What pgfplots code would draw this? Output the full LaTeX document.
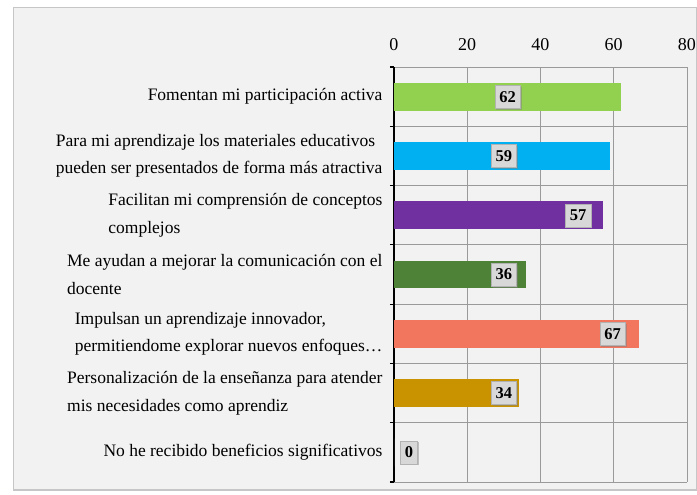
\documentclass[border=0pt]{standalone}
\usepackage{fontspec}
\setmainfont{Liberation Serif}
\usepackage{pgfplots}
\pgfplotsset{compat=1.18}
\usetikzlibrary{shadows}
\definecolor{bgc}{HTML}{F2F2F2}
\definecolor{c1}{HTML}{92D050}
\definecolor{c2}{HTML}{00B0F0}
\definecolor{c3}{HTML}{7030A0}
\definecolor{c4}{HTML}{4E8236}
\definecolor{c5}{HTML}{F2755E}
\definecolor{c6}{HTML}{C99300}
\definecolor{gridc}{HTML}{9A9A9A}
\definecolor{boxc}{HTML}{D8D8D8}
\begin{document}
\begin{tikzpicture}[x=1pt,y=1pt]
\useasboundingbox (0,0) rectangle (697,495);
\fill[white] (0,0) rectangle (697,495);
\draw[fill=bgc, draw=gray!45, line width=1.2pt] (13.5,5) rectangle (696.5,487.5);
\begin{axis}[
  at={(394pt,13pt)}, anchor=south west,
  scale only axis, width=293pt, height=415pt,
  xmin=0, xmax=80, ymin=-0.5, ymax=6.5,
  y dir=reverse,
  axis y line*=left, axis x line*=top,
  x axis line style={draw=none},
  y axis line style={black, line width=1.2pt},
  xtick={0,20,40,60,80},
  xticklabel pos=top,
  major x tick style={draw=none},
  xmajorgrids, ymajorgrids,
  major grid style={gridc, line width=0.9pt},
  ytick={-0.5,0.5,...,6.5},
  yticklabels={},
  major y tick style={black, line width=1.2pt},
  tick align=outside,
  major tick length=4pt,
  extra y ticks={0,1,2,3,4,5,6},
  extra y tick labels={
    Fomentan mi participación activa,
    {Para mi aprendizaje los materiales educativos\\pueden ser presentados de forma más atractiva},
    {Facilitan mi comprensión de conceptos\\complejos},
    {Me ayudan a mejorar la comunicación con el\\docente},
    {Impulsan un aprendizaje innovador,\\permitiendome explorar nuevos enfoques…},
    {Personalización de la enseñanza para atender\\mis necesidades como aprendiz},
    No he recibido beneficios significativos},
  extra y tick style={major tick length=0pt, grid=none,
    yticklabel style={align=left, font=\fontsize{17.5}{27.5}\selectfont, xshift=-8pt}},
  /pgf/number format/assume math mode=true,
  xticklabel style={font=\fontsize{18}{20}\selectfont, yshift=9pt},
  clip=false,
]
\addplot[xbar, bar width=0.47, fill=c1, draw=none] coordinates {(62,0)};
\addplot[xbar, bar width=0.47, fill=c2, draw=none] coordinates {(59,1)};
\addplot[xbar, bar width=0.47, fill=c3, draw=none] coordinates {(57,2)};
\addplot[xbar, bar width=0.47, fill=c4, draw=none] coordinates {(36,3)};
\addplot[xbar, bar width=0.47, fill=c5, draw=none] coordinates {(67,4)};
\addplot[xbar, bar width=0.47, fill=c6, draw=none] coordinates {(34,5)};
\addplot[xbar, bar width=0.47, fill=gray, draw=none] coordinates {(0,6)};
\addplot[draw=none, mark=none, nodes near coords, point meta=explicit symbolic,
  nodes near coords align=center,
  nodes near coords style={anchor=center, fill=boxc, draw=gray!60, line width=0.4pt,
    inner xsep=4.5pt, inner ysep=2pt, minimum width=0pt, minimum height=23pt,
    font=\bfseries\fontsize{16.5}{18}\selectfont, text=black,
    drop shadow={opacity=0.45, shadow xshift=1.5pt, shadow yshift=-1.5pt}}]
  table[row sep=\\, meta=v] {
  x y v \\
  31 0 62 \\
  30 1 59 \\
  50.3 2 57 \\
  30 3 36 \\
  59.7 4 67 \\
  30 5 34 \\
  4.1 6 0 \\
  };
\end{axis}
\end{tikzpicture}
\end{document}
